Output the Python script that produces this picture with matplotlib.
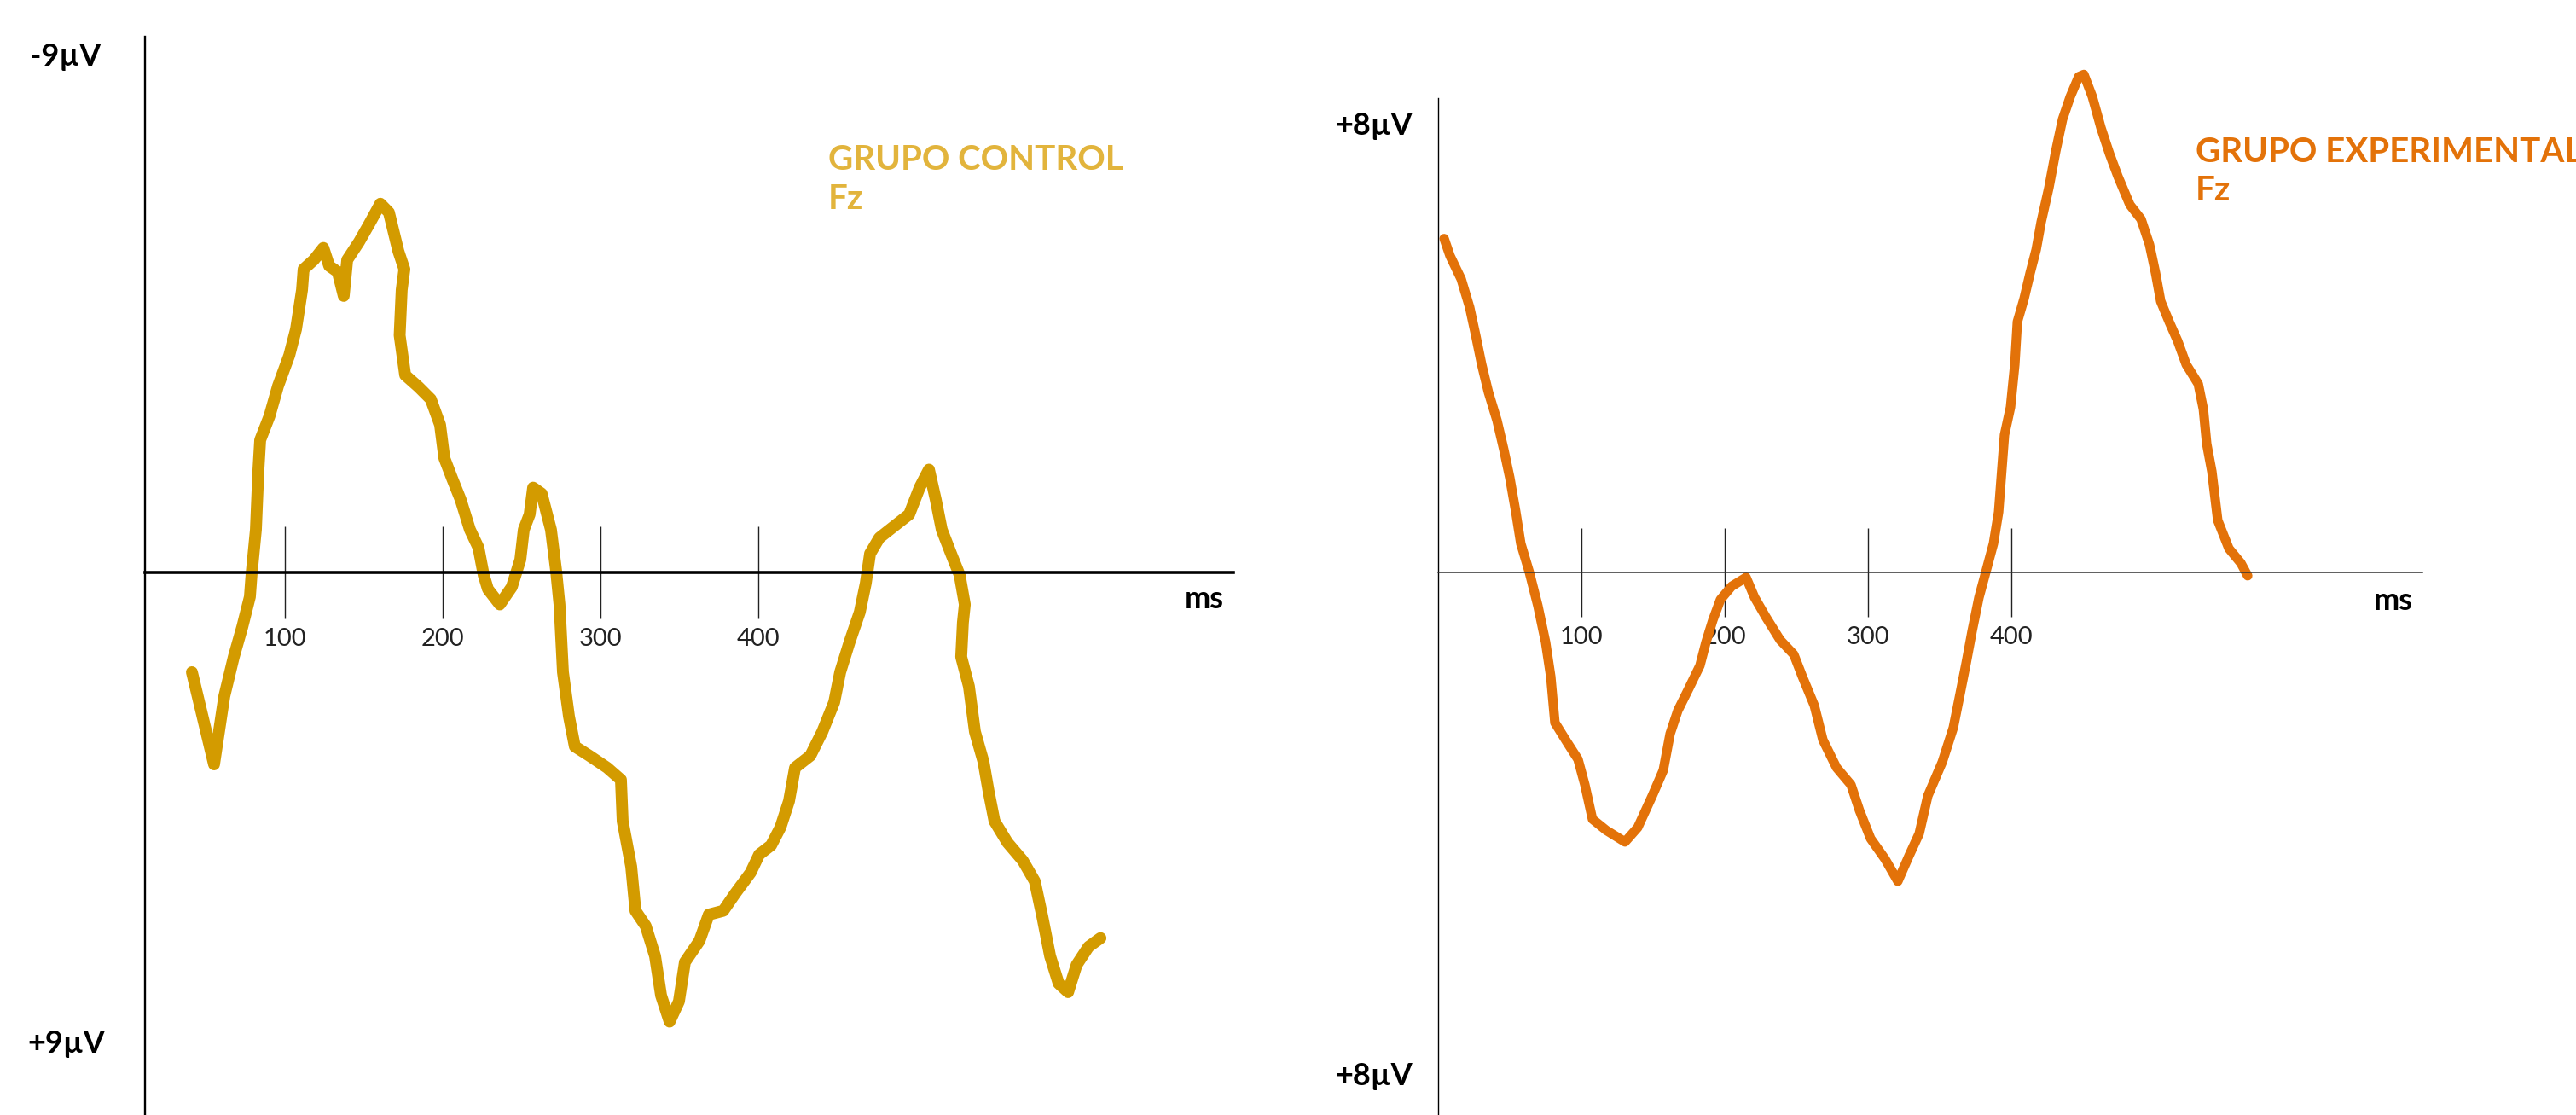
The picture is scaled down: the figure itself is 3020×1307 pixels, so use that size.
import numpy as np
import matplotlib.pyplot as plt

plt.rcParams['font.family'] = ['Lato', 'DejaVu Sans']

# Datos (tiempo en ms, amplitud en microvoltios)
# Grupo control: eje invertido (negativo arriba)
t_control = [41.3, 55.3, 61.8, 67.8, 73.2, 78.0, 79.1, 81.8, 83.4, 84.5, 90.4, 95.8,
             102.9, 107.2, 111.0, 112.0, 118.5, 124.5, 128.2, 133.6, 137.4, 139.6,
             147.1, 153.6, 160.6, 166.0, 172.0, 175.8, 174.1, 172.8, 176.3, 184.9,
             192.5, 198.4, 201.1, 206.0, 211.4, 217.3, 222.7, 226.0, 228.7, 236.2,
             243.8, 249.2, 251.4, 255.1, 257.3, 262.7, 268.6, 271.9, 274.0, 276.2,
             280.0, 283.7, 292.9, 304.2, 312.9, 314.0, 319.4, 322.1, 328.6, 334.5,
             338.3, 343.7, 349.6, 353.4, 362.6, 368.5, 377.7, 385.3, 395.0, 400.4,
             408.0, 413.9, 419.3, 423.1, 432.8, 440.4, 447.9, 451.7, 457.6, 464.1,
             467.9, 470.6, 476.5, 485.7, 495.4, 502.0, 507.9, 512.2, 516.0, 521.9,
             527.3, 530.6, 529.4, 528.3, 533.2, 537.0, 542.4, 545.7, 549.4, 557.6,
             567.3, 574.9, 579.7, 584.6, 590.0, 596.0, 601.4, 608.9, 616.5]
v_control = [1.83, 3.52, 2.27, 1.55, 1.0, 0.45, 0.02, -0.78, -1.88, -2.42, -2.86, -3.41,
             -3.97, -4.45, -5.17, -5.55, -5.72, -5.94, -5.61, -5.5, -5.06, -5.72,
             -6.05, -6.38, -6.75, -6.59, -5.88, -5.55, -5.17, -4.34, -3.61, -3.39,
             -3.17, -2.70, -2.09, -1.72, -1.33, -0.78, -0.45, 0.05, 0.31, 0.59,
             0.27, -0.23, -0.78, -1.06, -1.55, -1.44, -0.78, -0.02, 0.59, 1.83,
             2.64, 3.19, 3.36, 3.58, 3.80, 4.56, 5.39, 6.2, 6.48, 7.03,
             7.75, 8.23, 7.86, 7.14, 6.75, 6.27, 6.2, 5.88, 5.5, 5.17,
             5.0, 4.67, 4.19, 3.58, 3.36, 2.92, 2.38, 1.83, 1.28, 0.73,
             0.2, -0.34, -0.63, -0.84, -1.06, -1.55, -1.88, -1.33, -0.78, -0.34,
             0.05, 0.59, 0.92, 1.55, 2.09, 2.92, 3.47, 4.02, 4.56, 4.95,
             5.28, 5.66, 6.31, 7.03, 7.53, 7.69, 7.19, 6.86, 6.70]

# Grupo experimental: positivo arriba
t_exp = [4.2, 8.3, 16.1, 22.0, 26.2, 30.4, 35.1, 41.1, 45.8, 50.0, 54.2, 57.7, 63.7,
         69.6, 75.0, 78.6, 81.5, 89.9, 97.6, 102.4, 107.7, 117.3, 130.4, 139.3,
         149.4, 157.1, 161.9, 167.3, 175.0, 182.7, 186.9, 191.7, 197.0, 204.8,
         214.9, 220.8, 228.6, 238.7, 248.2, 254.2, 262.5, 268.5, 278.0, 288.1,
         294.0, 301.8, 311.9, 320.8, 328.6, 335.7, 341.7, 351.8, 359.5, 364.3,
         368.5, 372.6, 377.4, 382.1, 387.5, 391.1, 395.2, 399.4, 402.4, 404.2,
         408.9, 413.1, 417.3, 420.8, 426.2, 431.0, 435.7, 441.1, 447.0, 450.6,
         456.5, 462.5, 468.5, 474.4, 482.7, 490.5, 496.4, 500.6, 504.2, 510.1,
         516.1, 522.0, 530.4, 534.0, 536.3, 539.9, 544.0, 551.8, 560.1, 564.9]
v_exp = [6.02, 5.71, 5.29, 4.78, 4.28, 3.75, 3.25, 2.74, 2.22, 1.71, 1.09, 0.52, 0.0,
         -0.6, -1.26, -1.88, -2.71, -3.06, -3.37, -3.83, -4.45, -4.65, -4.86, -4.6,
         -4.03, -3.57, -2.91, -2.49, -2.09, -1.68, -1.26, -0.86, -0.49, -0.25,
         -0.09, -0.45, -0.8, -1.22, -1.48, -1.88, -2.4, -3.02, -3.52, -3.83,
         -4.29, -4.8, -5.17, -5.57, -5.11, -4.71, -4.03, -3.42, -2.8, -2.18,
         -1.63, -1.06, -0.45, 0.0, 0.52, 1.09, 2.48, 2.98, 3.75, 4.52,
         4.94, 5.4, 5.82, 6.32, 6.94, 7.6, 8.17, 8.58, 8.94, 8.98,
         8.58, 8.02, 7.55, 7.14, 6.63, 6.37, 5.91, 5.4, 4.89, 4.52,
         4.17, 3.75, 3.4, 2.94, 2.32, 1.82, 0.94, 0.43, 0.17, -0.06]

ticks_ms = [100, 200, 300, 400]
tick_labels = ['100', '200', '300', '400']

col_control = '#D39B00'
col_control_txt = '#E2B43C'
col_exp = '#E37209'

fig = plt.figure(figsize=(30.2, 13.07), dpi=100)

# ---- panel izquierdo: grupo control ----
ax1 = fig.add_axes([0, 0, 1500 / 3020, 1])
ax1.plot(t_control, v_control, color=col_control, lw=10, solid_joinstyle='round',
         solid_capstyle='round')
ax1.set_xlim(-80.2, 729.8)
ax1.set_ylim(9.94, -10.48)
ax1.patch.set_alpha(0)

for s in ['top', 'right']:
    ax1.spines[s].set_visible(False)
ax1.spines['left'].set_position(('data', 11.6))
ax1.spines['left'].set_bounds(-9.81, 9.94)
ax1.spines['left'].set_linewidth(1.7)
ax1.spines['bottom'].set_position(('data', 0))
ax1.spines['bottom'].set_bounds(11.6, 700.6)
ax1.spines['bottom'].set_linewidth(2.6)
ax1.set_yticks([])
ax1.set_xticks(ticks_ms)
ax1.set_xticklabels(tick_labels)
ax1.tick_params(axis='x', direction='inout', length=78, width=1.0, pad=8,
                labelsize=21, colors='#222222')

ax1.text(-38.6, -9.44, '-9µV', fontsize=26, fontweight='bold', ha='center', va='center')
ax1.text(-38.1, 8.64, '+9µV', fontsize=26, fontweight='bold', ha='center', va='center')
ax1.text(682.2, 0.5, 'ms', fontsize=26, fontweight='bold', ha='center', va='center')
ax1.text(444.1, -7.55, 'GRUPO CONTROL', fontsize=29, fontweight='bold',
         color=col_control_txt, ha='left', va='center')
ax1.text(444.1, -6.83, 'Fz', fontsize=29, fontweight='bold',
         color=col_control_txt, ha='left', va='center')

# ---- panel derecho: grupo experimental ----
ax2 = fig.add_axes([1500 / 3020, 0, 1520 / 3020, 1])
ax2.plot(t_exp, v_exp, color=col_exp, lw=8, solid_joinstyle='round',
         solid_capstyle='round')
ax2.set_xlim(-110.7, 794.0)
ax2.set_ylim(-9.785, 10.323)
ax2.patch.set_alpha(0)

for s in ['top', 'right']:
    ax2.spines[s].set_visible(False)
ax2.spines['left'].set_position(('data', 0))
ax2.spines['left'].set_bounds(-9.785, 8.55)
ax2.spines['left'].set_linewidth(1.0)
ax2.spines['bottom'].set_position(('data', 0))
ax2.spines['bottom'].set_bounds(0, 687)
ax2.spines['bottom'].set_linewidth(1.1)
ax2.spines['bottom'].set_color('#333333')
ax2.set_yticks([])
ax2.set_xticks(ticks_ms)
ax2.set_xticklabels(tick_labels)
ax2.tick_params(axis='x', direction='inout', length=75, width=1.0, pad=8,
                labelsize=21, colors='#222222')

ax2.text(-44.6, 8.05, '+8µV', fontsize=26, fontweight='bold', ha='center', va='center')
ax2.text(-44.6, -9.08, '+8µV', fontsize=26, fontweight='bold', ha='center', va='center')
ax2.text(666.7, -0.52, 'ms', fontsize=26, fontweight='bold', ha='center', va='center')
# el titulo queda cortado en el borde derecho, igual que en el original
ax2.text(528.6, 7.58, 'GRUPO EXPERIMENTAL', fontsize=29, fontweight='bold',
         color=col_exp, ha='left', va='center')
ax2.text(528.6, 6.88, 'Fz', fontsize=29, fontweight='bold',
         color=col_exp, ha='left', va='center')

fig.savefig('out.png', dpi=100)
